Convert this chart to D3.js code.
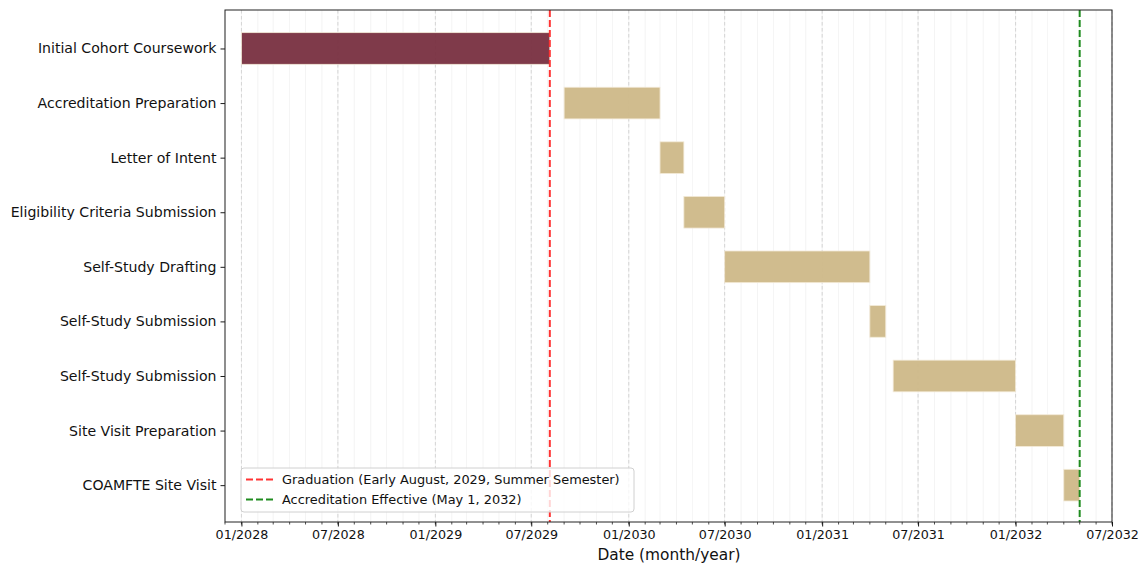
<!DOCTYPE html>
<html>
<head>
<meta charset="utf-8">
<script src="https://cdn.jsdelivr.net/npm/d3@7"></script>
<style>
  html, body { margin: 0; padding: 0; background: #fff; }
  svg { display: block; }
  text { font-family: "DejaVu Sans", sans-serif; }
</style>
</head>
<body>
<svg id="chart" width="1147" height="563"></svg>
<script>
// ---- Data ----
const tasks = [
  "Initial Cohort Coursework",
  "Accreditation Preparation",
  "Letter of Intent",
  "Eligibility Criteria Submission",
  "Self-Study Drafting",
  "Self-Study Submission",
  "Self-Study Submission",
  "Site Visit Preparation",
  "COAMFTE Site Visit"
];
const startDates = ["2028-01-01","2029-09-01","2030-03-01","2030-04-15","2030-07-01","2031-04-01","2031-05-15","2032-01-01","2032-04-01"];
const endDates   = ["2029-08-05","2030-03-01","2030-04-15","2030-07-01","2031-04-01","2031-05-01","2032-01-01","2032-04-01","2032-05-01"];
const phases = ["coursework","accreditation","accreditation","accreditation","accreditation","accreditation","accreditation","accreditation","accreditation"];
const tickDates = ["2028-01-01","2028-07-01","2029-01-01","2029-07-01","2030-01-01","2030-07-01","2031-01-01","2031-07-01","2032-01-01","2032-07-01"];
const tickLabels = ["01/2028","07/2028","01/2029","07/2029","01/2030","07/2030","01/2031","07/2031","01/2032","07/2032"];
const markerDates = ["2029-08-05","2032-05-01"];
const markerLabels = ["Graduation (Early August, 2029, Summer Semester)","Accreditation Effective (May 1, 2032)"];
const xDomain = ["2027-12-01","2032-07-01"];

// ---- Layout ----
const parse = d3.utcParse("%Y-%m-%d");
const W = 1147, H = 563;
const m = {left: 225, right: W - 1112, top: 10, bottom: H - 522};
const iw = W - m.left - m.right, ih = H - m.top - m.bottom;
const phaseColor = {coursework: "#782F40", accreditation: "#CEB888"};
const markerColors = ["#ff3333", "#1f8c1f"];
const dash = "7,3";

const svg = d3.select("#chart");
const g = svg.append("g").attr("transform", `translate(${m.left},${m.top})`);

const x = d3.scaleUtc().domain(xDomain.map(parse)).range([0, iw]);
const y = d3.scaleLinear().domain([-0.705, tasks.length - 1 + 0.675]).range([0, ih]);
const barH = 0.58;

// minor grid (monthly)
const months = d3.utcMonth.range(parse(xDomain[0]), d3.utcDay.offset(parse(xDomain[1]), 1));
g.append("g").selectAll("line").data(months).join("line")
  .attr("x1", d => x(d)).attr("x2", d => x(d))
  .attr("y1", 0).attr("y2", ih)
  .attr("stroke", "#e6e6e6").attr("stroke-width", 0.6).attr("opacity", 0.7);

// major grid
g.append("g").selectAll("line").data(tickDates.map(parse)).join("line")
  .attr("x1", d => x(d)).attr("x2", d => x(d))
  .attr("y1", 0).attr("y2", ih)
  .attr("stroke", "#c8c8c8").attr("stroke-width", 0.9)
  .attr("stroke-dasharray", "3.5,2.5").attr("opacity", 0.8);

// bars
g.append("g").selectAll("rect").data(tasks.map((t, i) => ({t, i, s: parse(startDates[i]), e: parse(endDates[i]), p: phases[i]})))
  .join("rect")
  .attr("x", d => x(d.s))
  .attr("width", d => x(d.e) - x(d.s))
  .attr("y", d => y(d.i - barH / 2))
  .attr("height", d => y(barH) - y(0))
  .attr("fill", d => phaseColor[d.p])
  .attr("fill-opacity", 0.95)
  .attr("stroke", "#f3ead8").attr("stroke-width", 0.8);

// marker lines
g.append("g").selectAll("line").data(markerDates.map(parse)).join("line")
  .attr("x1", d => x(d)).attr("x2", d => x(d))
  .attr("y1", 0).attr("y2", ih)
  .attr("stroke", (d, i) => markerColors[i]).attr("stroke-width", 2)
  .attr("stroke-dasharray", dash);

// axes
const xAxis = d3.axisBottom(x)
  .tickValues(tickDates.map(parse))
  .tickFormat((d, i) => tickLabels[i])
  .tickSize(4.5).tickPadding(3.5);
const xg = g.append("g").attr("transform", `translate(0,${ih})`).call(xAxis);
xg.select(".domain").remove();
xg.selectAll("text").attr("font-size", 12.7).attr("fill", "#111").attr("font-family", "DejaVu Sans");
xg.selectAll(".tick line").attr("stroke", "#000").attr("stroke-width", 0.9);

// minor ticks
g.append("g").selectAll("line").data(months).join("line")
  .attr("x1", d => x(d)).attr("x2", d => x(d))
  .attr("y1", ih).attr("y2", ih + 2.5)
  .attr("stroke", "#000").attr("stroke-width", 0.7);

const yAxis = d3.axisLeft(y)
  .tickValues(d3.range(tasks.length))
  .tickFormat(i => tasks[i])
  .tickSize(4.5).tickPadding(4);
const yg = g.append("g").call(yAxis);
yg.select(".domain").remove();
yg.selectAll("text").attr("font-size", 14.1).attr("fill", "#111").attr("font-family", "DejaVu Sans");
yg.selectAll(".tick line").attr("stroke", "#000").attr("stroke-width", 0.9);

// frame
g.append("rect").attr("x", 0).attr("y", 0).attr("width", iw).attr("height", ih)
  .attr("fill", "none").attr("stroke", "#222").attr("stroke-width", 1);

// x label
svg.append("text")
  .attr("x", m.left + iw / 2 + 0.5).attr("y", 560)
  .attr("text-anchor", "middle").attr("font-size", 15.4).attr("fill", "#111")
  .text("Date (month/year)");

// legend
const lg = g.append("g").attr("transform", `translate(16,${458})`);
lg.append("rect").attr("x", 0).attr("y", 0).attr("width", 393).attr("height", 44)
  .attr("rx", 3).attr("fill", "#fff").attr("fill-opacity", 0.8)
  .attr("stroke", "#d0d0d0").attr("stroke-width", 1);
markerLabels.forEach((lab, i) => {
  const yy = 11.5 + i * 20;
  lg.append("line").attr("x1", 5).attr("x2", 32).attr("y1", yy).attr("y2", yy)
    .attr("stroke", markerColors[i]).attr("stroke-width", 2).attr("stroke-dasharray", dash);
  lg.append("text").attr("x", 41).attr("y", yy).attr("dy", "0.35em")
    .attr("font-size", 12.9).attr("fill", "#111").text(lab);
});
</script>
</body>
</html>
